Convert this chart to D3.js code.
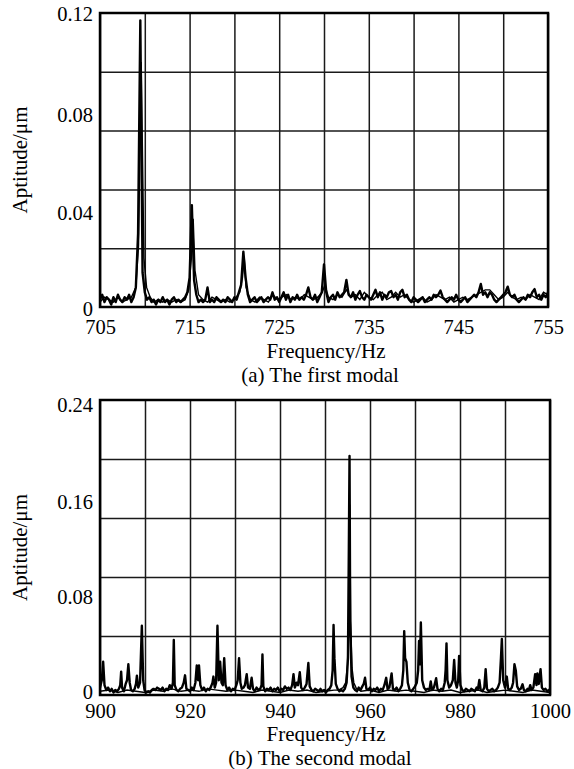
<!DOCTYPE html>
<html>
<head>
<meta charset="utf-8">
<script src="https://cdn.jsdelivr.net/npm/d3@7"></script>
<style>
  body { margin: 0; background: #fff; }
</style>
</head>
<body>
<svg id="chart"></svg>
<script>
var serif = 'Liberation Serif';

// tick labels
var xTicks1 = [705, 715, 725, 735, 745, 755];
var yTicks1 = [0, 0.04, 0.08, 0.12];
var xTicks2 = [900, 920, 940, 960, 980, 1000];
var yTicks2 = [0, 0.08, 0.16, 0.24];

// first modal, measured spectrum [Hz, um]
var modal1 = [
  [705.00,0.003],[705.25,0.005],[705.50,0.002],[705.75,0.004],[706.00,0.003],[706.25,0.001],[706.50,0.004],[706.75,0.002],
  [707.00,0.005],[707.25,0.003],[707.50,0.002],[707.75,0.004],[708.00,0.003],[708.25,0.005],[708.50,0.002],[708.75,0.004],
  [709.00,0.008],[709.25,0.030],[709.50,0.117],[709.75,0.014],[710.00,0.006],[710.25,0.003],[710.50,0.004],[710.75,0.002],
  [711.00,0.003],[711.25,0.001],[711.50,0.003],[711.75,0.002],[712.00,0.004],[712.25,0.002],[712.50,0.003],[712.75,0.001],
  [713.00,0.003],[713.25,0.004],[713.50,0.002],[713.75,0.003],[714.00,0.002],[714.25,0.003],[714.50,0.004],[714.75,0.006],
  [715.00,0.012],[715.25,0.0416],[715.50,0.011],[715.75,0.005],[716.00,0.002],[716.25,0.003],[716.50,0.002],[716.75,0.003],
  [717.00,0.008],[717.25,0.002],[717.50,0.003],[717.75,0.002],[718.00,0.004],[718.25,0.003],[718.50,0.002],[718.75,0.003],
  [719.00,0.002],[719.25,0.004],[719.50,0.003],[719.75,0.002],[720.00,0.004],[720.25,0.003],[720.50,0.006],[720.75,0.009],
  [721.00,0.0226],[721.25,0.012],[721.50,0.005],[721.75,0.002],[722.00,0.003],[722.25,0.004],[722.50,0.002],[722.75,0.003],
  [723.00,0.004],[723.25,0.002],[723.50,0.003],[723.75,0.004],[724.00,0.003],[724.25,0.006],[724.50,0.003],[724.75,0.004],
  [725.00,0.002],[725.25,0.004],[725.50,0.006],[725.75,0.003],[726.00,0.005],[726.25,0.002],[726.50,0.004],[726.75,0.003],
  [727.00,0.005],[727.25,0.003],[727.50,0.004],[727.75,0.003],[728.00,0.005],[728.25,0.008],[728.50,0.004],[728.75,0.003],
  [729.00,0.005],[729.25,0.002],[729.50,0.004],[729.75,0.006],[730.00,0.0174],[730.25,0.006],[730.50,0.002],[730.75,0.004],
  [731.00,0.005],[731.25,0.003],[731.50,0.006],[731.75,0.004],[732.00,0.005],[732.25,0.006],[732.50,0.011],[732.75,0.005],
  [733.00,0.004],[733.25,0.006],[733.50,0.003],[733.75,0.005],[734.00,0.0065],[734.25,0.004],[734.50,0.003],[734.75,0.005],
  [735.00,0.004],[735.25,0.003],[735.50,0.005],[735.75,0.007],[736.00,0.004],[736.25,0.006],[736.50,0.003],[736.75,0.005],
  [737.00,0.004],[737.25,0.006],[737.50,0.0065],[737.75,0.004],[738.00,0.005],[738.25,0.003],[738.50,0.006],[738.75,0.007],
  [739.00,0.004],[739.25,0.005],[739.50,0.003],[739.75,0.002],[740.00,0.004],[740.25,0.003],[740.50,0.002],[740.75,0.003],
  [741.00,0.004],[741.25,0.002],[741.50,0.003],[741.75,0.004],[742.00,0.003],[742.25,0.005],[742.50,0.004],[742.75,0.005],
  [743.00,0.0067],[743.25,0.004],[743.50,0.003],[743.75,0.002],[744.00,0.003],[744.25,0.004],[744.50,0.003],[744.75,0.005],
  [745.00,0.003],[745.25,0.002],[745.50,0.003],[745.75,0.004],[746.00,0.002],[746.25,0.003],[746.50,0.004],[746.75,0.005],
  [747.00,0.004],[747.25,0.006],[747.50,0.0094],[747.75,0.005],[748.00,0.006],[748.25,0.004],[748.50,0.006],[748.75,0.005],
  [749.00,0.003],[749.25,0.002],[749.50,0.003],[749.75,0.004],[750.00,0.005],[750.25,0.006],[750.50,0.0083],[750.75,0.005],
  [751.00,0.004],[751.25,0.005],[751.50,0.003],[751.75,0.002],[752.00,0.003],[752.25,0.004],[752.50,0.003],[752.75,0.005],
  [753.00,0.004],[753.25,0.006],[753.50,0.0073],[753.75,0.004],[754.00,0.005],[754.25,0.003],[754.50,0.005],[754.75,0.004],
  [755.00,0.006]
];

// first modal, second (smoother) trace
var modal1b = [
  [705,0.002],[705.5,0.004],[706,0.003],[706.5,0.002],[707,0.004],[707.5,0.002],[708,0.003],[708.5,0.004],[709.0,0.008],
  [709.3,0.025],[709.6,0.100],[709.9,0.020],[710.2,0.008],[710.6,0.004],[711,0.002],[711.5,0.003],[712,0.002],[712.5,0.003],
  [713,0.002],[713.5,0.003],[714,0.002],[714.5,0.003],[714.9,0.007],[715.2,0.020],[715.4,0.036],[715.6,0.015],[716.0,0.005],
  [716.5,0.003],[717,0.002],[717.5,0.004],[718,0.003],[718.5,0.002],[719,0.003],[719.5,0.002],[720,0.003],[720.6,0.006],
  [720.9,0.012],[721.1,0.020],[721.3,0.008],[721.8,0.003],[722.3,0.002],[722.8,0.004],[723.3,0.003],[723.8,0.002],
  [724.3,0.005],[724.8,0.003],[725.3,0.004],[725.8,0.005],[726.3,0.003],[726.8,0.004],[727.3,0.003],[727.8,0.005],
  [728.3,0.004],[728.8,0.003],[729.3,0.004],[729.8,0.006],[730.1,0.009],[730.5,0.004],[731,0.003],[731.5,0.005],
  [732,0.004],[732.5,0.007],[733,0.004],[733.5,0.005],[734,0.003],[734.5,0.006],[735,0.004],[735.5,0.003],[736,0.005],
  [736.5,0.006],[737,0.003],[737.5,0.004],[738,0.006],[738.5,0.004],[739,0.005],[739.5,0.003],[740,0.002],[740.5,0.003],
  [741,0.004],[741.5,0.002],[742,0.003],[742.5,0.005],[743,0.004],[743.5,0.003],[744,0.004],[744.5,0.002],[745,0.003],
  [745.5,0.004],[746,0.003],[746.5,0.004],[747,0.005],[747.5,0.006],[748,0.007],[748.5,0.007],[749,0.005],[749.5,0.003],
  [750,0.004],[750.5,0.006],[751,0.004],[751.5,0.003],[752,0.004],[752.5,0.003],[753,0.005],[753.5,0.004],[754,0.003],
  [754.5,0.006],[755,0.005]
];

// second modal, measured spectrum [Hz, um]
var modal2 = [
  [900.0,0.006],[900.4,0.012],[900.7,0.027],[901.0,0.008],[901.4,0.004],[901.8,0.006],[902.2,0.003],[902.6,0.005],
  [903.0,0.002],[903.4,0.004],[903.8,0.003],[904.2,0.005],[904.5,0.008],[904.7,0.019],[904.9,0.006],[905.3,0.003],
  [905.7,0.009],[906.0,0.012],[906.3,0.025],[906.6,0.010],[906.9,0.004],[907.3,0.003],[907.7,0.005],[908.0,0.009],
  [908.2,0.0157],[908.5,0.006],[908.9,0.010],[909.3,0.0564],[909.6,0.012],[909.9,0.004],[910.3,0.002],[910.7,0.003],
  [911.1,0.002],[911.5,0.004],[911.9,0.005],[912.3,0.004],[912.7,0.006],[913.1,0.005],[913.5,0.004],[913.9,0.006],
  [914.3,0.003],[914.7,0.005],[915.1,0.004],[915.5,0.008],[915.9,0.005],[916.2,0.010],[916.4,0.0447],[916.6,0.008],
  [917.0,0.004],[917.4,0.003],[917.8,0.005],[918.2,0.006],[918.6,0.010],[918.9,0.016],[919.2,0.005],[919.6,0.004],
  [920.0,0.003],[920.4,0.006],[920.8,0.004],[921.2,0.010],[921.5,0.024],[921.8,0.012],[922.0,0.024],[922.3,0.008],
  [922.7,0.004],[923.1,0.006],[923.5,0.003],[923.9,0.005],[924.3,0.004],[924.7,0.007],[925.0,0.010],[925.2,0.015],
  [925.5,0.006],[925.8,0.010],[926.1,0.0564],[926.4,0.012],[926.7,0.027],[927.0,0.010],[927.3,0.008],[927.6,0.030],
  [927.9,0.008],[928.3,0.004],[928.7,0.006],[929.1,0.003],[929.5,0.005],[929.9,0.004],[930.3,0.008],[930.6,0.012],
  [930.9,0.030],[931.2,0.010],[931.5,0.005],[931.9,0.006],[932.2,0.008],[932.6,0.017],[932.9,0.006],[933.3,0.005],
  [933.7,0.014],[934.0,0.005],[934.4,0.003],[934.8,0.006],[935.2,0.004],[935.6,0.005],[935.9,0.008],[936.1,0.033],
  [936.3,0.007],[936.7,0.003],[937.1,0.005],[937.5,0.004],[937.9,0.006],[938.3,0.003],[938.7,0.005],[939.1,0.004],
  [939.5,0.006],[939.9,0.003],[940.3,0.005],[940.7,0.004],[941.1,0.007],[941.5,0.005],[941.9,0.006],[942.3,0.004],
  [942.7,0.008],[943.0,0.017],[943.3,0.006],[943.7,0.010],[944.0,0.008],[944.4,0.0185],[944.7,0.006],[945.1,0.004],
  [945.5,0.006],[945.9,0.009],[946.3,0.026],[946.6,0.007],[947.0,0.004],[947.4,0.003],[947.8,0.005],[948.2,0.004],
  [948.6,0.003],[949.0,0.005],[949.4,0.003],[949.8,0.004],[950.2,0.002],[950.6,0.004],[951.0,0.005],[951.4,0.008],
  [951.7,0.020],[951.9,0.057],[952.1,0.030],[952.4,0.009],[952.8,0.005],[953.2,0.003],[953.6,0.004],[954.0,0.003],
  [954.4,0.005],[954.8,0.010],[955.1,0.030],[955.3,0.120],[955.45,0.1945],[955.6,0.060],[955.9,0.015],[956.3,0.006],
  [956.7,0.004],[957.1,0.003],[957.5,0.006],[957.9,0.004],[958.3,0.007],[958.6,0.009],[958.9,0.014],[959.2,0.005],
  [959.6,0.004],[960.0,0.006],[960.4,0.003],[960.8,0.005],[961.2,0.004],[961.6,0.006],[962.0,0.003],[962.4,0.005],
  [962.8,0.004],[963.2,0.008],[963.6,0.014],[963.9,0.005],[964.3,0.006],[964.8,0.0176],[965.1,0.005],[965.5,0.004],
  [965.9,0.006],[966.3,0.003],[966.7,0.005],[967.1,0.008],[967.4,0.020],[967.6,0.052],[967.8,0.030],[968.1,0.027],
  [968.4,0.010],[968.8,0.004],[969.2,0.003],[969.6,0.005],[970.0,0.007],[970.4,0.010],[970.7,0.020],[970.9,0.044],
  [971.1,0.025],[971.3,0.059],[971.6,0.012],[972.0,0.006],[972.4,0.004],[972.8,0.005],[973.2,0.004],[973.5,0.011],
  [973.8,0.004],[974.2,0.006],[974.7,0.0136],[975.0,0.005],[975.4,0.003],[975.8,0.005],[976.2,0.004],[976.6,0.010],
  [976.8,0.020],[977.0,0.042],[977.2,0.012],[977.6,0.006],[978.0,0.008],[978.4,0.012],[978.7,0.0285],[979.0,0.010],
  [979.3,0.006],[979.6,0.012],[979.8,0.0317],[980.1,0.008],[980.5,0.004],[980.9,0.003],[981.3,0.005],[981.7,0.004],
  [982.1,0.003],[982.5,0.005],[982.9,0.004],[983.3,0.003],[983.7,0.006],[984.0,0.005],[984.3,0.0122],[984.6,0.004],
  [985.0,0.003],[985.4,0.006],[985.7,0.021],[986.0,0.005],[986.4,0.003],[986.8,0.004],[987.2,0.005],[987.6,0.003],
  [988.0,0.004],[988.4,0.006],[988.8,0.010],[989.1,0.030],[989.3,0.0456],[989.6,0.012],[990.0,0.006],[990.4,0.015],
  [990.7,0.005],[991.1,0.004],[991.5,0.006],[991.8,0.010],[992.1,0.025],[992.4,0.020],[992.7,0.007],[993.1,0.004],
  [993.5,0.005],[993.9,0.0087],[994.2,0.004],[994.6,0.003],[995.0,0.005],[995.3,0.004],[995.6,0.008],[995.9,0.004],
  [996.3,0.006],[996.7,0.017],[997.0,0.008],[997.2,0.0176],[997.5,0.009],[997.9,0.021],[998.2,0.006],[998.6,0.004],
  [999.0,0.005],[999.4,0.003],[999.8,0.004],[1000.0,0.005]
];

// second modal, second (smoother) trace
var modal2b = [
  [900,0.003],[902,0.004],[904,0.002],[906,0.004],[908,0.003],[910,0.002],[912,0.004],[914,0.003],[916,0.005],[918,0.003],
  [920,0.004],[922,0.003],[924,0.005],[926,0.004],[928,0.003],[930,0.004],[932,0.003],[934,0.002],[936,0.004],[938,0.003],
  [940,0.002],[942,0.004],[944,0.003],[946,0.004],[948,0.002],[950,0.003],[952,0.004],[953,0.004],[954,0.006],[954.6,0.010],
  [955.0,0.025],[955.3,0.070],[955.5,0.155],[955.7,0.060],[956.0,0.022],[956.4,0.010],[957,0.005],[958,0.003],[960,0.004],
  [962,0.002],[964,0.004],[966,0.003],[968,0.004],[970,0.003],[972,0.002],[974,0.004],[976,0.003],[978,0.004],[980,0.002],
  [982,0.003],[984,0.004],[986,0.002],[988,0.003],[990,0.004],[992,0.003],[994,0.002],[996,0.004],[998,0.003],[1000,0.002]
];

var svg = d3.select('#chart').attr('width', 574).attr('height', 769);

function drawPanel(cfg) {
  var x = d3.scaleLinear().domain(cfg.xDomain).range([100, cfg.right]);
  var y = d3.scaleLinear().domain(cfg.yDomain).range([cfg.bottom, cfg.top]);
  var g = svg.append('g');

  // grid
  g.append('g')
    .attr('transform', 'translate(0,' + cfg.bottom + ')')
    .call(d3.axisBottom(x).tickValues(cfg.gridX).tickSize(cfg.top - cfg.bottom).tickFormat(''))
    .call(function(s) { s.select('.domain').remove(); })
    .selectAll('line').attr('stroke', '#1a1a1a').attr('stroke-width', 1.5);
  g.append('g')
    .attr('transform', 'translate(100,0)')
    .call(d3.axisLeft(y).tickValues(cfg.gridY).tickSize(100 - cfg.right).tickFormat(''))
    .call(function(s) { s.select('.domain').remove(); })
    .selectAll('line').attr('stroke', '#1a1a1a').attr('stroke-width', 1.5);

  // tick labels
  g.append('g')
    .attr('transform', 'translate(0,' + cfg.bottom + ')')
    .call(d3.axisBottom(x).tickValues(cfg.xTicks).tickSize(0).tickPadding(cfg.xPad).tickFormat(d3.format('d')))
    .attr('font-family', serif).attr('font-size', 20.5)
    .call(function(s) { s.select('.domain').remove(); });
  g.append('g')
    .attr('transform', 'translate(100,0)')
    .call(d3.axisLeft(y).tickValues(cfg.yTicks).tickSize(0).tickPadding(7).tickFormat(function(d) { return String(d); }))
    .attr('font-family', serif).attr('font-size', 20.5)
    .call(function(s) { s.select('.domain').remove(); })
    .selectAll('text')
    .attr('dy', function(d, i) { return cfg.yDy[i] + 'px'; });

  // spectra
  var clipId = 'clip' + cfg.id;
  svg.append('clipPath').attr('id', clipId).append('rect')
    .attr('x', 100).attr('y', cfg.top).attr('width', cfg.right - 100).attr('height', cfg.bottom - cfg.top);
  var line = d3.line().x(function(d) { return x(d[0]); }).y(function(d) { return y(d[1]); });
  g.append('path').datum(cfg.thin).attr('d', line).attr('clip-path', 'url(#' + clipId + ')')
    .attr('fill', 'none').attr('stroke', '#000').attr('stroke-width', 1.4);
  g.append('path').datum(cfg.data).attr('d', line).attr('clip-path', 'url(#' + clipId + ')')
    .attr('fill', 'none').attr('stroke', '#000').attr('stroke-width', 2.4).attr('stroke-linejoin', 'round');

  // frame
  g.append('rect').attr('x', 100).attr('y', cfg.top)
    .attr('width', cfg.right - 100).attr('height', cfg.bottom - cfg.top)
    .attr('fill', 'none').attr('stroke', '#000').attr('stroke-width', 2.5);

  // titles
  g.append('text').attr('transform', 'translate(27,' + ((cfg.top + cfg.bottom) / 2) + ') rotate(-90)')
    .attr('text-anchor', 'middle').attr('font-family', serif).attr('font-size', 21).text('Aptitude/\u03bcm');
  g.append('text').attr('x', 326).attr('y', cfg.titleY)
    .attr('text-anchor', 'middle').attr('font-family', serif).attr('font-size', 21).text('Frequency/Hz');
  g.append('text').attr('x', 320).attr('y', cfg.captionY)
    .attr('text-anchor', 'middle').attr('font-family', serif).attr('font-size', 21).text(cfg.caption);
}

drawPanel({
  id: 1, xDomain: [705, 755], yDomain: [0, 0.12], right: 548, top: 13, bottom: 307,
  gridX: d3.range(705, 756, 5), gridY: [0.024, 0.048, 0.072, 0.096],
  xTicks: xTicks1, yTicks: yTicks1, xPad: 12, yDy: [8, 10, 10, 7.7],
  data: modal1, thin: modal1b,
  titleY: 358, captionY: 382, caption: '(a) The first modal'
});

drawPanel({
  id: 2, xDomain: [900, 1000], yDomain: [0, 0.24], right: 550, top: 400, bottom: 695,
  gridX: d3.range(900, 1001, 10), gridY: [0.048, 0.096, 0.144, 0.192],
  xTicks: xTicks2, yTicks: yTicks2, xPad: 8, yDy: [3.5, 7.3, 9.7, 11.7],
  data: modal2, thin: modal2b,
  titleY: 741, captionY: 765, caption: '(b) The second modal'
});
</script>
</body>
</html>
